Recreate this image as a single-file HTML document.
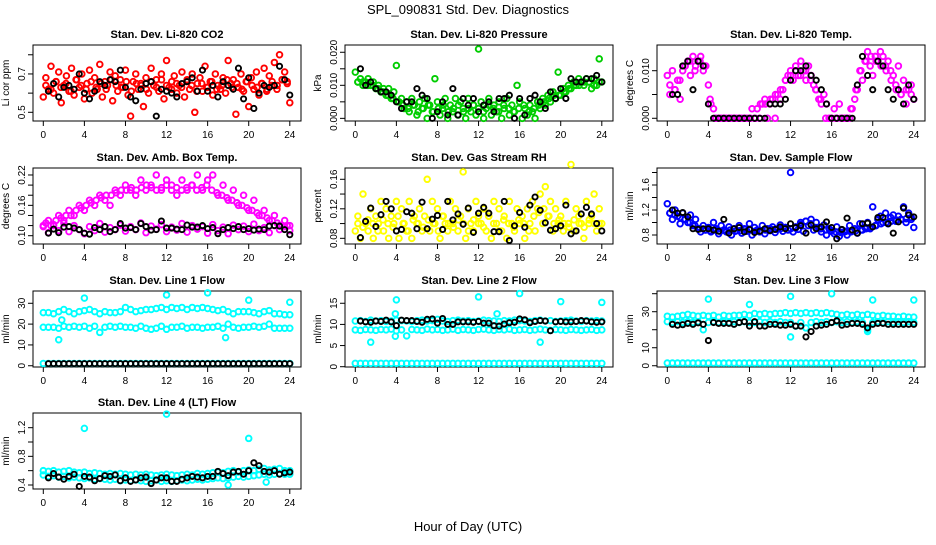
<!DOCTYPE html>
<html><head><meta charset="utf-8"><style>
body{margin:0;background:#fff;}
svg text{font-family:"Liberation Sans",sans-serif;}
</style></head><body>
<svg id="chart" width="936" height="540" xmlns="http://www.w3.org/2000/svg">
<rect width="936" height="540" fill="#fff"/>
<text x="468" y="14" font-size="13" text-anchor="middle">SPL_090831  Std. Dev. Diagnostics</text>
<text x="468" y="531" font-size="13" text-anchor="middle">Hour of Day (UTC)</text>
</svg>
<script>
// ---- data ----
const xTicks=[0,4,8,12,16,20,24];
const co2Main=[0.58,0.68,0.62,0.74,0.60,0.66,0.71,0.55,0.64,0.69,0.61,0.73,0.59,0.67,0.63,0.70,0.57,0.65,0.72,0.60,0.68,0.62,0.75,0.58,0.66,0.64,0.71,0.56,0.69,0.61,0.67,0.63,0.72,0.59,0.48,0.66,0.70,0.62,0.65,0.53,0.68,0.60,0.73,0.64,0.67,0.61,0.70,0.57,0.77,0.63,0.66,0.69,0.60,0.64,0.71,0.58,0.67,0.62,0.70,0.50,0.65,0.68,0.61,0.74,0.63,0.66,0.59,0.70,0.64,0.62,0.68,0.60,0.77,0.65,0.67,0.49,0.63,0.70,0.61,0.66,0.53,0.68,0.62,0.71,0.59,0.65,0.73,0.61,0.69,0.64,0.76,0.62,0.80,0.67,0.71,0.66,0.55];
const co2Core=[0.64,0.62,0.66,0.63,0.65,0.61,0.67,0.64,0.62,0.66,0.63,0.65,0.62,0.67,0.64,0.63,0.66,0.61,0.65,0.64,0.62,0.66,0.63,0.67,0.64,0.62,0.65,0.63,0.66,0.64,0.61,0.65,0.63,0.66,0.62,0.64,0.67,0.63,0.65,0.62,0.66,0.64,0.63,0.65,0.62,0.66,0.64,0.67,0.65];
const co2Black=[0.61,0.65,0.58,0.63,0.64,0.62,0.70,0.60,0.57,0.61,0.66,0.64,0.67,0.66,0.72,0.63,0.58,0.56,0.62,0.65,0.66,0.48,0.62,0.61,0.60,0.58,0.65,0.66,0.68,0.61,0.72,0.61,0.64,0.58,0.66,0.64,0.62,0.73,0.57,0.68,0.52,0.60,0.64,0.63,0.64,0.74,0.67,0.59];
const presMain=[0.014,0.011,0.012,0.010,0.011,0.012,0.010,0.011,0.009,0.010,0.008,0.009,0.007,0.009,0.006,0.008,0.016,0.005,0.006,0.003,0.005,0.002,0.006,0.004,0.001,0.005,0.003,0.006,0.000,0.004,0.002,0.012,0.005,0.001,0.003,0.006,0.000,0.004,0.002,0.006,0.001,0.005,0.003,0.000,0.006,0.002,0.004,0.001,0.021,0.005,0.000,0.003,0.006,0.001,0.004,0.002,0.005,0.000,0.003,0.006,0.001,0.004,0.002,0.010,0.005,0.000,0.003,0.001,0.004,0.002,0.000,0.005,0.003,0.006,0.004,0.007,0.005,0.008,0.006,0.014,0.007,0.009,0.008,0.010,0.009,0.011,0.010,0.012,0.011,0.010,0.012,0.011,0.009,0.012,0.010,0.018,0.011];
const presCore=[0.011,0.011,0.010,0.010,0.009,0.008,0.007,0.006,0.005,0.004,0.003,0.004,0.002,0.003,0.004,0.002,0.003,0.004,0.002,0.003,0.004,0.002,0.003,0.004,0.003,0.002,0.004,0.003,0.002,0.004,0.003,0.002,0.003,0.004,0.002,0.003,0.004,0.005,0.006,0.007,0.007,0.008,0.009,0.010,0.010,0.011,0.011,0.010,0.011];
const presBlack=[0.015,0.010,0.011,0.009,0.008,0.008,0.007,0.005,0.003,0.005,0.005,0.009,0.007,0.006,0.000,0.002,0.005,0.001,0.009,0.001,0.006,0.004,0.006,0.002,0.004,0.005,0.002,0.006,0.006,0.007,0.000,0.006,0.001,0.006,0.007,0.005,0.003,0.008,0.006,0.009,0.006,0.012,0.011,0.011,0.012,0.012,0.013,0.011];
const tempMain=[0.009,0.005,0.010,0.006,0.008,0.004,0.010,0.011,0.012,0.009,0.013,0.011,0.012,0.013,0.010,0.011,0.007,0.003,0.002,0.000,0.000,0.000,0.000,0.000,0.000,0.000,0.000,0.000,0.000,0.000,0.000,0.000,0.000,0.002,0.000,0.002,0.000,0.003,0.004,0.000,0.003,0.004,0.000,0.005,0.004,0.006,0.008,0.009,0.010,0.008,0.011,0.009,0.012,0.010,0.008,0.011,0.009,0.007,0.006,0.004,0.003,0.005,0.003,0.000,0.000,0.002,0.000,0.003,0.000,0.000,0.000,0.000,0.002,0.004,0.006,0.010,0.008,0.012,0.014,0.011,0.009,0.013,0.012,0.014,0.013,0.011,0.012,0.010,0.009,0.007,0.011,0.005,0.008,0.003,0.006,0.007,0.004];
const tempCore=[0.007,0.006,0.008,0.011,0.012,0.010,0.012,0.011,0.004,0.000,0.000,0.000,0.000,0.000,0.000,0.000,0.000,0.000,0.003,0.003,0.004,0.005,0.006,0.008,0.009,0.010,0.009,0.010,0.008,0.006,0.004,0.000,0.000,0.000,0.000,0.000,0.002,0.006,0.010,0.012,0.013,0.012,0.011,0.010,0.008,0.006,0.005,0.006,0.005];
const tempBlack=[0.005,0.005,0.011,0.012,0.006,0.012,0.011,0.003,0.000,0.000,0.000,0.000,0.000,0.000,0.000,0.000,0.000,0.000,0.000,0.003,0.003,0.003,0.004,0.008,0.010,0.010,0.011,0.009,0.008,0.006,0.003,0.000,0.000,0.000,0.000,0.000,0.007,0.013,0.009,0.006,0.012,0.011,0.006,0.004,0.006,0.003,0.007,0.004];
const ambUpper=[0.12,0.13,0.12,0.14,0.13,0.15,0.14,0.16,0.15,0.17,0.16,0.18,0.17,0.16,0.19,0.18,0.20,0.19,0.18,0.21,0.19,0.20,0.22,0.19,0.21,0.20,0.18,0.21,0.19,0.20,0.22,0.19,0.21,0.22,0.18,0.20,0.17,0.19,0.16,0.18,0.15,0.17,0.14,0.15,0.13,0.14,0.12,0.13,0.12];
const ambMid=[0.125,0.12,0.13,0.135,0.14,0.14,0.15,0.155,0.16,0.165,0.17,0.175,0.18,0.18,0.185,0.19,0.19,0.195,0.19,0.195,0.2,0.195,0.19,0.195,0.2,0.19,0.195,0.19,0.195,0.2,0.19,0.195,0.2,0.19,0.185,0.18,0.175,0.17,0.165,0.16,0.155,0.15,0.145,0.14,0.135,0.13,0.125,0.12,0.12];
const ambLower=[0.118,0.106,0.122,0.110,0.125,0.108,0.120,0.112,0.104,0.118,0.110,0.124,0.107,0.116,0.112,0.121,0.109,0.118,0.112,0.125,0.106,0.119,0.113,0.122,0.108,0.117,0.111,0.124,0.107,0.120,0.113,0.118,0.105,0.122,0.110,0.117,0.104,0.121,0.112,0.119,0.108,0.123,0.110,0.116,0.106,0.120,0.112,0.118,0.110];
const ambBlack=[0.105,0.113,0.106,0.117,0.118,0.115,0.112,0.105,0.103,0.116,0.112,0.118,0.108,0.112,0.124,0.115,0.116,0.112,0.124,0.118,0.111,0.112,0.129,0.115,0.115,0.113,0.112,0.121,0.117,0.117,0.120,0.114,0.116,0.104,0.112,0.116,0.114,0.118,0.112,0.114,0.111,0.113,0.112,0.119,0.120,0.119,0.112,0.102];
const rhMain=[0.09,0.11,0.08,0.14,0.10,0.09,0.12,0.08,0.11,0.10,0.13,0.09,0.12,0.08,0.11,0.10,0.13,0.08,0.12,0.10,0.09,0.13,0.08,0.11,0.10,0.12,0.09,0.11,0.16,0.09,0.13,0.10,0.12,0.08,0.11,0.10,0.09,0.13,0.10,0.12,0.09,0.11,0.17,0.08,0.12,0.10,0.09,0.13,0.11,0.10,0.12,0.09,0.11,0.08,0.13,0.10,0.12,0.09,0.11,0.08,0.13,0.10,0.09,0.12,0.10,0.11,0.08,0.12,0.10,0.13,0.09,0.12,0.14,0.10,0.15,0.11,0.13,0.09,0.12,0.10,0.11,0.09,0.13,0.10,0.18,0.09,0.12,0.11,0.10,0.08,0.13,0.10,0.11,0.14,0.09,0.12,0.10];
const rhCore=[0.10,0.095,0.105,0.10,0.09,0.105,0.10,0.095,0.11,0.10,0.09,0.105,0.10,0.095,0.105,0.10,0.09,0.11,0.10,0.095,0.105,0.10,0.09,0.105,0.10,0.095,0.11,0.10,0.09,0.105,0.10,0.095,0.105,0.10,0.09,0.11,0.115,0.12,0.11,0.10,0.105,0.10,0.095,0.105,0.10,0.095,0.105,0.10,0.10];
const rhBlack=[0.081,0.103,0.121,0.096,0.112,0.130,0.120,0.090,0.092,0.116,0.114,0.093,0.129,0.093,0.106,0.111,0.092,0.130,0.105,0.113,0.099,0.121,0.088,0.114,0.122,0.114,0.089,0.089,0.130,0.077,0.097,0.115,0.095,0.125,0.136,0.118,0.101,0.091,0.093,0.097,0.125,0.086,0.090,0.113,0.122,0.113,0.100,0.090];
const flowMain=[1.30,1.15,1.05,1.20,1.10,0.98,1.15,1.05,1.00,1.12,0.95,1.05,0.90,0.85,0.95,0.88,0.92,0.85,1.00,0.90,0.82,0.95,0.88,0.85,0.93,0.80,0.90,0.87,0.95,0.83,0.90,0.86,0.98,0.80,0.92,0.88,0.85,0.95,0.82,0.90,0.87,0.93,0.84,0.90,0.96,0.86,0.92,0.88,1.80,0.85,0.93,0.89,0.97,0.86,1.02,0.95,1.05,0.88,1.00,0.92,0.85,0.96,0.80,0.90,0.87,0.82,0.93,0.78,0.88,0.85,0.80,0.95,0.86,0.90,0.83,0.98,0.88,0.92,1.00,0.90,1.25,0.95,1.05,1.10,1.00,1.15,0.98,1.08,1.12,1.02,1.10,1.05,1.25,1.00,1.15,1.08,0.92];
const flowCore=[1.15,1.12,1.08,1.05,1.0,0.95,0.9,0.88,0.87,0.88,0.86,0.87,0.88,0.86,0.87,0.89,0.88,0.86,0.87,0.88,0.9,0.89,0.9,0.92,0.9,0.91,1.0,1.02,0.98,0.92,0.9,0.88,0.86,0.85,0.84,0.86,0.85,0.87,0.88,0.9,0.92,0.95,0.98,1.0,1.02,1.04,1.05,1.06,1.05];
const flowBlack=[1.20,1.15,1.16,1.09,0.90,0.89,0.90,0.90,0.88,0.86,1.05,0.83,0.90,0.92,0.85,0.89,0.84,0.86,0.90,0.87,0.89,0.93,0.90,0.98,0.92,0.95,0.83,0.96,0.90,0.93,1.01,0.92,0.74,0.89,1.07,0.88,0.83,0.98,0.99,0.93,1.08,1.08,0.98,0.83,1.01,1.23,1.12,1.09];
const line1Upper=[25.5,25.5,25,26,27,26,25,26,26.5,27,26,25,26,25.5,25.5,26,28,27,26,26.5,27,27,27.5,28,27,28,27.5,28,27,28,27.5,28,27.5,27,26.5,27,26,25,26,26,26,25.5,25,26,26.5,25,25,24.5,24.5];
const line1Lower=[18.5,18.5,18.5,18,19,18.5,19,18.5,19,18,19,16,18.5,19,18.5,19,18.5,18.5,18,19,18,17.5,18,19,17.5,18.5,18.5,19,18,18.5,18.5,18,18.5,18.5,19,18,20,18.5,18,18.5,18.5,19,18.5,19,20,18,18,18,18];
const line1Base=[1.1,1.1,1.1,1.1,1.1,1.1,1.1,1.1,1.1,1.1,1.1,1.1,1.1,1.1,1.1,1.1,1.1,1.1,1.1,1.1,1.1,1.1,1.1,1.1,1.1,1.1,1.1,1.1,1.1,1.1,1.1,1.1,1.1,1.1,1.1,1.1,1.1,1.1,1.1,1.1,1.1,1.1,1.1,1.1,1.1,1.1,1.1,1.1,1.1];
const line1Black=[1,1,1,1,1,1,1,1,1,1,1,1,1,1,1,1,1,1,1,1,1,1,1,1,1,1,1,1,1,1,1,1,1,1,1,1,1,1,1,1,1,1,1,1,1,1,1,1];
const line1OutHours=[4,12,16,20,24,1.5,17.75,1.8];
const line1OutVals=[32.5,34,35,31.5,30.5,12.5,13.5,22];
const line2Upper=[10.8,10.9,10.7,11,10.8,10.9,10.7,10.8,11,10.9,10.8,10.7,10.9,11,10.8,10.9,11.2,10.8,10.7,10.9,11,10.8,10.9,10.7,10.8,11,10.9,10.8,10.7,10.9,10.8,11,10.9,10.8,10.7,10.9,11,10.8,10.9,10.7,10.8,10.9,11,10.8,10.7,10.9,10.8,10.9,10.8];
const line2Lower=[8.7,8.6,8.8,8.7,8.6,8.8,8.7,8.9,8.5,8.7,7.3,8.8,8.7,8.6,8.9,8.7,8.8,8.6,8.7,8.9,8.6,8.8,8.7,8.6,8.8,8.9,8.7,8.6,8.8,8.7,8.9,8.6,8.7,8.8,8.6,8.7,8.9,8.7,8.6,8.8,8.7,8.6,8.8,8.7,8.6,8.7,8.8,8.6,8.7];
const line2Base=[0.8,0.8,0.8,0.8,0.8,0.8,0.8,0.8,0.8,0.8,0.8,0.8,0.8,0.8,0.8,0.8,0.8,0.8,0.8,0.8,0.8,0.8,0.8,0.8,0.8,0.8,0.8,0.8,0.8,0.8,0.8,0.8,0.8,0.8,0.8,0.8,0.8,0.8,0.8,0.8,0.8,0.8,0.8,0.8,0.8,0.8,0.8,0.8,0.8];
const line2Black=[10.8,10.6,10.5,10.8,10.7,11,10.6,9.7,11,10.9,10.9,10.7,10.5,11.2,11.3,10.3,11.4,10,10,10.6,10.6,10.6,10.5,10.7,10.3,10.3,9.7,9.6,10.1,10.4,10.5,11.3,11.1,10.4,10.7,10.9,10.8,8.5,10.6,10.7,10.6,10.6,10.7,10.9,10.8,10.6,10.5,10.6];
const line2OutHours=[4,12,16,20,24,1.5,18,3.9,3.9,13.8];
const line2OutVals=[15.8,16.5,17.3,15.4,15.2,5.8,5.8,12.5,7.2,12.5];
const line3Upper=[27.5,27,27.5,28,28.5,28,27.5,28,27.5,28,27,28,27.5,28,28,28.5,28,29,28.5,29,28.5,29,29,29.5,29,29.5,29,29.5,29,29.5,29,29.5,29,28.5,28,28.5,28,28.5,28,28.5,28,27.5,28,27.5,27.5,27,27.5,27,27];
const line3Lower=[24.5,24,24.5,24,24.5,24,24.5,20,24,24.5,24,24.5,24,24.5,24,24.5,24,24,24.5,24,24.5,24,24.5,24,24,22,24,21,24,24.5,24,24.5,24,24.5,24,24.5,24,24.5,24,20,24,24.5,24,24.5,24,24.5,24,24.5,24];
const line3Base=[1.5,1.5,1.5,1.5,1.5,1.5,1.5,1.5,1.5,1.5,1.5,1.5,1.5,1.5,1.5,1.5,1.5,1.5,1.5,1.5,1.5,1.5,1.5,1.5,1.5,1.5,1.5,1.5,1.5,1.5,1.5,1.5,1.5,1.5,1.5,1.5,1.5,1.5,1.5,1.5,1.5,1.5,1.5,1.5,1.5,1.5,1.5,1.5,1.5];
const line3Black=[23,22.5,22.8,23.5,23,23.8,23,14,24,23.5,23.5,23.5,23,24,24.5,22,24.5,22,22,23,23,22.5,22.5,23,22,22,16,19,22,22.5,23,24,25,22.5,23,23.5,23.5,23,21,23,23.5,23.5,23,23,23,23,23,23];
const line3OutHours=[4,12,16,20,24,8,12,19.5];
const line3OutVals=[37,38.5,40,36.5,36.5,34,16,19];
const line4Upper=[0.60,0.59,0.60,0.58,0.59,0.60,0.58,0.57,0.58,0.56,0.57,0.56,0.55,0.56,0.55,0.56,0.55,0.54,0.55,0.54,0.55,0.54,0.53,0.54,0.55,0.54,0.53,0.54,0.55,0.54,0.56,0.55,0.56,0.57,0.58,0.57,0.59,0.60,0.58,0.60,0.61,0.60,0.62,0.63,0.61,0.62,0.63,0.60,0.60];
const line4Lower=[0.54,0.52,0.53,0.51,0.52,0.50,0.51,0.50,0.49,0.50,0.48,0.49,0.48,0.47,0.48,0.46,0.47,0.46,0.47,0.46,0.45,0.46,0.47,0.45,0.46,0.45,0.46,0.47,0.46,0.47,0.48,0.47,0.48,0.49,0.50,0.49,0.50,0.51,0.52,0.51,0.52,0.53,0.54,0.55,0.54,0.55,0.56,0.55,0.55];
const line4Black=[0.50,0.56,0.51,0.48,0.52,0.55,0.38,0.52,0.51,0.46,0.49,0.53,0.52,0.54,0.46,0.50,0.45,0.47,0.50,0.51,0.42,0.47,0.50,0.50,0.45,0.45,0.48,0.50,0.52,0.51,0.50,0.52,0.52,0.59,0.56,0.53,0.58,0.59,0.55,0.60,0.71,0.67,0.59,0.58,0.60,0.55,0.57,0.58];
const line4OutHours=[4,12,20,18,21.7];
const line4OutVals=[1.19,1.39,1.05,0.40,0.44];

// ---- drawing ----
const NS='http://www.w3.org/2000/svg';
const svg=document.getElementById('chart');
const colL=[33,345,657], rowT=[45,168,291,413], W=268, H=76;
function mk(tag,attrs,parent){const e=document.createElementNS(NS,tag);for(const k in attrs)e.setAttribute(k,attrs[k]);(parent||svg).appendChild(e);return e;}
const panels=[
 {n:'co2',t:'Stan. Dev. Li-820 CO2',yl:'Li cor ppm',c:0,r:0,y0:0.4546,y1:0.851,ticks:[0.5,0.6,0.7,0.8],labs:['0.5','','0.7',''],s:[[co2Main,0,24,'#ff0000'],[co2Core,0.25,23.75,'#ff0000']],b:co2Black},
 {n:'pressure',t:'Stan. Dev. Li-820 Pressure',yl:'kPa',c:1,r:0,y0:-0.0008,y1:0.0222,ticks:[0,0.005,0.01,0.015,0.02],labs:['0.000','','0.010','','0.020'],s:[[presMain,0,24,'#00cd00'],[presCore,0.25,23.75,'#00cd00']],b:presBlack},
 {n:'li820-temp',t:'Stan. Dev. Li-820 Temp.',yl:'degrees C',c:2,r:0,y0:-0.00057,y1:0.0154,ticks:[0,0.005,0.01],labs:['0.000','','0.010'],s:[[tempMain,0,24,'#ff00ff'],[tempCore,0.25,23.75,'#ff00ff']],b:tempBlack},
 {n:'amb-box-temp',t:'Stan. Dev. Amb. Box Temp.',yl:'degrees C',c:0,r:1,y0:0.0836,y1:0.2338,ticks:[0.10,0.12,0.14,0.16,0.18,0.20,0.22],labs:['0.10','','','0.16','','','0.22'],s:[[ambUpper,0,24,'#ff00ff'],[ambMid,0.25,23.75,'#ff00ff'],[ambLower,0,24,'#ff00ff']],b:ambBlack},
 {n:'gas-stream-rh',t:'Stan. Dev. Gas Stream RH',yl:'percent',c:1,r:1,y0:0.0723,y1:0.1753,ticks:[0.08,0.10,0.12,0.14,0.16],labs:['0.08','','0.12','','0.16'],s:[[rhMain,0,24,'#ffff00'],[rhCore,0.25,23.75,'#ffff00']],b:rhBlack},
 {n:'sample-flow',t:'Stan. Dev. Sample Flow',yl:'ml/min',c:2,r:1,y0:0.656,y1:1.872,ticks:[0.8,1.0,1.2,1.4,1.6,1.8],labs:['0.8','','1.2','','1.6',''],s:[[flowMain,0,24,'#0000ff'],[flowCore,0.25,23.75,'#0000ff']],b:flowBlack},
 {n:'line1-flow',t:'Stan. Dev. Line 1 Flow',yl:'ml/min',c:0,r:2,y0:-0.6,y1:35.9,ticks:[0,10,20,30],labs:['0','10','20','30'],s:[[line1Upper,0,24,'#00ffff'],[line1Lower,0,24,'#00ffff'],[line1Base,0,24,'#00ffff']],b:line1Black,oh:line1OutHours,ov:line1OutVals},
 {n:'line2-flow',t:'Stan. Dev. Line 2 Flow',yl:'ml/min',c:1,r:2,y0:-0.07,y1:17.9,ticks:[0,5,10,15],labs:['0','5','10','15'],s:[[line2Upper,0,24,'#00ffff'],[line2Lower,0,24,'#00ffff'],[line2Base,0,24,'#00ffff']],b:line2Black,oh:line2OutHours,ov:line2OutVals},
 {n:'line3-flow',t:'Stan. Dev. Line 3 Flow',yl:'ml/min',c:2,r:2,y0:-0.7,y1:41.5,ticks:[0,10,20,30,40],labs:['0','10','','30',''],s:[[line3Upper,0,24,'#00ffff'],[line3Lower,0,24,'#00ffff'],[line3Base,0,24,'#00ffff']],b:line3Black,oh:line3OutHours,ov:line3OutVals},
 {n:'line4-flow',t:'Stan. Dev. Line 4 (LT) Flow',yl:'ml/min',c:0,r:3,y0:0.344,y1:1.405,ticks:[0.4,0.6,0.8,1.0,1.2],labs:['0.4','','0.8','','1.2'],s:[[line4Upper,0,24,'#00ffff'],[line4Lower,0,24,'#00ffff']],b:line4Black,oh:line4OutHours,ov:line4OutVals}
];
panels.forEach(p=>{
 const L=colL[p.c], T=rowT[p.r], B=T+H;
 const xs=h=>L+10.3+h*(246.5/24);
 const ys=v=>B-(v-p.y0)/(p.y1-p.y0)*H;
 const g=mk('g',{});
 
 
 const tt=mk('text',{x:L+W/2,y:T-7,'font-size':11,'font-weight':'bold','text-anchor':'middle'},g);
 tt.textContent=p.t;
 
 
 const yt=mk('text',{x:0,y:0,'font-size':10,'text-anchor':'middle',transform:`translate(${L-24},${T+H/2}) rotate(-90)`},g);
 yt.textContent=p.yl;
 
 
 const xa=mk('g',{stroke:'#000','stroke-width':1},g);
 
 
 mk('line',{x1:xs(0),x2:xs(24),y1:B,y2:B},xa);
 xTicks.forEach(h=>{
  mk('line',{x1:xs(h),x2:xs(h),y1:B,y2:B+5},xa);
  const tl=mk('text',{x:xs(h),y:B+17,'font-size':10,'text-anchor':'middle',stroke:'none'},g);
  tl.textContent=h;
  
  
 });
 const ya=mk('g',{stroke:'#000','stroke-width':1},g);
 
 
 mk('line',{x1:L,x2:L,y1:ys(p.ticks[0]),y2:ys(p.ticks[p.ticks.length-1])},ya);
 p.ticks.forEach((v,i)=>{
  mk('line',{x1:L-5,x2:L,y1:ys(v),y2:ys(v)},ya);
  if(p.labs[i]){
   const tl=mk('text',{x:0,y:0,'font-size':10,'text-anchor':'middle',stroke:'none',transform:`translate(${L-8},${ys(v)}) rotate(-90)`},g);
   tl.textContent=p.labs[i];
   
   
  }
 });
 const box=mk('rect',{x:L,y:T,width:W,height:H,fill:'none',stroke:'#000','stroke-width':1},g);
 
 
 const pts=mk('g',{fill:'none','stroke-width':1.9},g);
 
 
 p.s.forEach(([vals,h0,h1,col])=>{
  vals.forEach((v,i)=>{
   const c=mk('circle',{cx:xs(h0+i*(h1-h0)/(vals.length-1)),cy:ys(v),r:2.8,stroke:col},pts);
   
   
  });
 });
 if(p.oh){p.oh.forEach((h,i)=>{
  const c=mk('circle',{cx:xs(h),cy:ys(p.ov[i]),r:2.8,stroke:'#00ffff'},pts);
  
  
 });}
 p.b.forEach((v,i)=>{
  const c=mk('circle',{cx:xs(0.5+i*23.5/(p.b.length-1)),cy:ys(v),r:2.6,stroke:'#000'},pts);
  
  
 });
});
</script>
</body></html>
